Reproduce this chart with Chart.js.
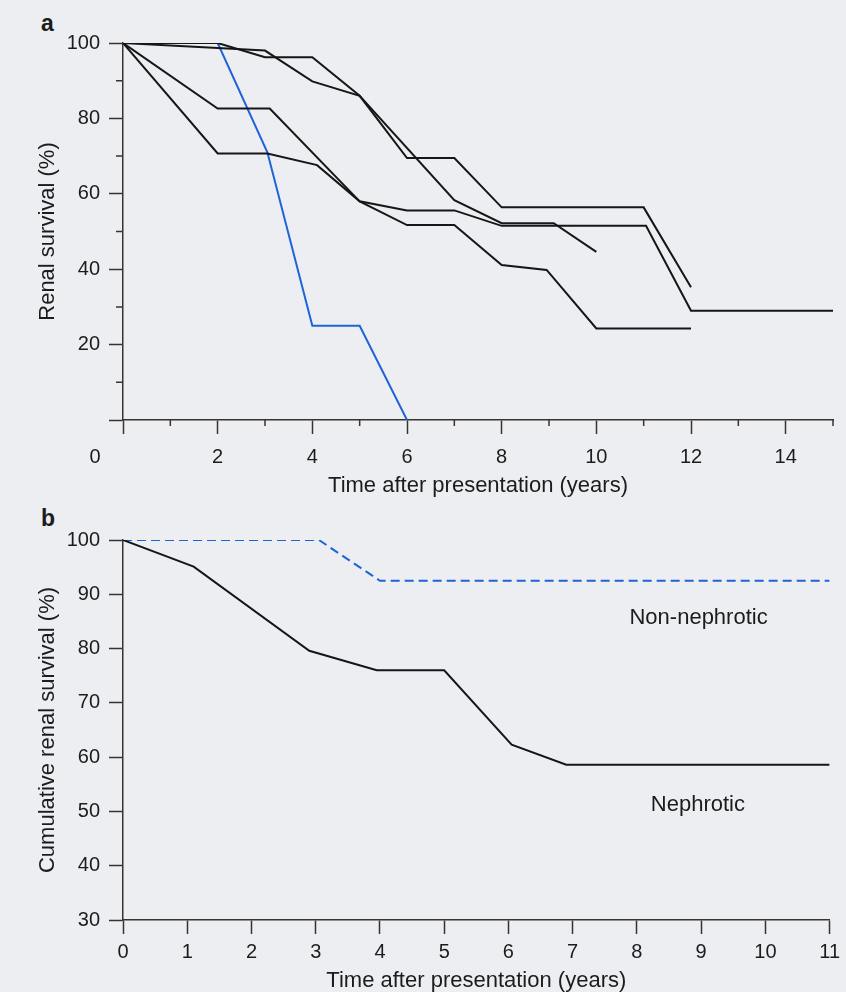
<!DOCTYPE html>
<html>
<head>
<meta charset="utf-8">
<script src="https://cdn.jsdelivr.net/npm/chart.js@4.4.1/dist/chart.umd.min.js"></script>
<style>
  html, body { margin: 0; padding: 0; background: #eceef2; }
  body { width: 846px; height: 992px; position: relative; overflow: hidden; font-family: "Liberation Sans", Arial, sans-serif; }
  canvas { position: absolute; left: 0; }
  #graficoA { top: 0; }
  #graficoB { top: 500px; }
  .tag { position: absolute; left: 41px; font-weight: bold; font-size: 23px; color: #1c1c1c; line-height: 1; }
</style>
</head>
<body>
<div class="tag" style="top:12px">a</div>
<div class="tag" style="top:507px">b</div>
<canvas id="graficoA" width="846" height="500"></canvas>
<canvas id="graficoB" width="846" height="492"></canvas>
<script>
// panel a - renal survival of single patients (years, %)
const timeA1 = [0, 2, 3, 4, 5, 6, 7, 8, 11, 12];
const survA1 = [100, 100, 96.2, 96.2, 86, 69.5, 69.5, 56.4, 56.4, 35.2];
const timeA2 = [0, 3, 4, 5, 7, 8, 9.1, 10];
const survA2 = [100, 98, 89.8, 86, 58.3, 52.2, 52.2, 44.6];
const timeA3 = [0, 2, 3.1, 5, 6, 7, 8, 11.05, 12, 15];
const survA3 = [100, 82.6, 82.6, 58, 55.6, 55.6, 51.5, 51.5, 29, 29];
const timeA4 = [0, 2, 3.05, 4.1, 5, 6, 7, 8, 8.95, 10, 12];
const survA4 = [100, 70.7, 70.7, 67.6, 58, 51.7, 51.7, 41.1, 39.8, 24.3, 24.3];
const timeBlue = [0, 2, 3.05, 4, 5, 6];
const survBlue = [100, 100, 71, 25, 25, 0];

// panel b - cumulative renal survival (years, %)
const timeNeph = [0, 1.1, 2.9, 3.95, 5, 6.05, 6.9, 11];
const survNeph = [100, 95.1, 79.6, 76, 76, 62.3, 58.6, 58.6];
const timeNonNeph = [0, 3.05, 4, 11];
const survNonNeph = [100, 100, 92.5, 92.5];

const corTexto = '#1c1c1c';
const corEixo = '#3a3230';
const corAzul = '#1f63d8';
const fonte = '"Liberation Sans", Arial, sans-serif';

function pontos(xs, ys) {
    return xs.map((x, i) => ({ x: x, y: ys[i] }));
}

function linha(xs, ys, cor, extra) {
    return Object.assign({
        data: pontos(xs, ys),
        borderColor: cor,
        borderWidth: 2,
        pointRadius: 0,
        tension: 0,
        fill: false
    }, extra || {});
}

// ticks menores (sem rótulo) desenhados mais curtos
const ticksMenores = {
    id: 'ticksMenores',
    afterDraw(chart, args, opts) {
        if (!opts.x) return;
        const ctx = chart.ctx;
        const sx = chart.scales.x, sy = chart.scales.y;
        ctx.save();
        ctx.strokeStyle = corEixo;
        ctx.lineWidth = 1.5;
        ctx.beginPath();
        sx.ticks.forEach(t => {
            if (t.value % opts.x !== 0) {
                const px = sx.getPixelForValue(t.value);
                ctx.moveTo(px, sy.bottom);
                ctx.lineTo(px, sy.bottom + 6);
            }
        });
        sy.ticks.forEach(t => {
            if (t.value % opts.y !== 0) {
                const py = sy.getPixelForValue(t.value);
                ctx.moveTo(sx.left, py);
                ctx.lineTo(sx.left - 7, py);
            }
        });
        ctx.stroke();
        ctx.restore();
    }
};

// textos extras (o "0" da origem e os nomes das curvas)
const textos = {
    id: 'textos',
    afterDraw(chart, args, opts) {
        const ctx = chart.ctx;
        const sx = chart.scales.x, sy = chart.scales.y;
        ctx.save();
        ctx.fillStyle = corTexto;
        ctx.textAlign = 'center';
        ctx.textBaseline = 'middle';
        (opts.itens || []).forEach(it => {
            ctx.font = it.size + 'px ' + fonte;
            let px, py;
            if (it.origem) {
                px = sx.left - 28;
                py = sy.bottom + 37;
            } else {
                px = sx.getPixelForValue(it.x);
                py = sy.getPixelForValue(it.y);
            }
            ctx.fillText(it.text, px, py);
        });
        ctx.restore();
    }
};

function eixoY(min, max, rotulo, mostrar, titulo) {
    return {
        type: 'linear',
        min: min,
        max: max,
        afterFit: s => { s.width = 123; },
        border: { display: true, color: corEixo, width: 1.5 },
        grid: {
            drawOnChartArea: false,
            tickLength: 14,
            tickWidth: 1.5,
            tickColor: c => (c.tick && mostrar(c.tick.value, true)) ? corEixo : 'transparent'
        },
        ticks: {
            stepSize: 10,
            padding: 9,
            color: corTexto,
            font: { size: 20, family: fonte },
            callback: v => rotulo(v) ? v : ''
        },
        title: {
            display: true,
            text: titulo,
            color: corTexto,
            font: { size: 22, family: fonte, lineHeight: 1 },
            padding: { top: 37, bottom: 0 }
        }
    };
}

function eixoX(max, altura, pad, rotulo, mostrar, tituloPad) {
    return {
        type: 'linear',
        min: 0,
        max: max,
        afterFit: s => { s.height = altura; },
        border: { display: true, color: corEixo, width: 1.5 },
        grid: {
            drawOnChartArea: false,
            tickLength: 14,
            tickWidth: 1.5,
            tickColor: c => (c.tick && mostrar(c.tick.value)) ? corEixo : 'transparent'
        },
        ticks: {
            stepSize: 1,
            padding: pad,
            maxRotation: 0,
            autoSkip: false,
            color: corTexto,
            font: { size: 20, family: fonte },
            callback: v => rotulo(v) ? v : ''
        },
        title: {
            display: true,
            text: 'Time after presentation (years)',
            color: corTexto,
            font: { size: 22, family: fonte, lineHeight: 1 },
            padding: { top: 0, bottom: tituloPad }
        }
    };
}

// Grafico a
new Chart(document.getElementById('graficoA').getContext('2d'), {
    type: 'line',
    data: {
        datasets: [
            linha(timeA1, survA1, '#161616'),
            linha(timeA2, survA2, '#161616'),
            linha(timeA3, survA3, '#161616'),
            linha(timeA4, survA4, '#161616'),
            linha(timeBlue, survBlue, corAzul)
        ]
    },
    options: {
        responsive: false,
        animation: false,
        layout: { padding: { top: 43, right: 13, left: 0, bottom: 0 } },
        plugins: {
            legend: { display: false },
            tooltip: { enabled: false },
            ticksMenores: { x: 2, y: 20 },
            textos: { itens: [{ text: '0', origem: true, size: 20 }] }
        },
        scales: {
            x: eixoX(15, 80, 11, v => v > 0 && v % 2 === 0, v => v % 2 === 0, 3),
            y: eixoY(0, 100, v => v > 0 && v % 20 === 0, v => v % 20 === 0, 'Renal survival (%)')
        }
    },
    plugins: [ticksMenores, textos]
});

// Grafico b
new Chart(document.getElementById('graficoB').getContext('2d'), {
    type: 'line',
    data: {
        datasets: [
            linha(timeNeph, survNeph, '#161616'),
            linha(timeNonNeph, survNonNeph, corAzul, { borderDash: [9, 5] })
        ]
    },
    options: {
        responsive: false,
        animation: false,
        layout: { padding: { top: 40, right: 12, left: 0, bottom: 0 } },
        plugins: {
            legend: { display: false },
            tooltip: { enabled: false },
            textos: {
                itens: [
                    { text: 'Non-nephrotic', x: 8.96, y: 85.6, size: 22 },
                    { text: 'Nephrotic', x: 8.95, y: 51.2, size: 22 }
                ]
            }
        },
        scales: {
            x: eixoX(11, 72, 6, v => true, v => true, 0),
            y: eixoY(30, 100, v => true, v => true, 'Cumulative renal survival (%)')
        }
    },
    plugins: [ticksMenores, textos]
});
</script>
</body>
</html>
